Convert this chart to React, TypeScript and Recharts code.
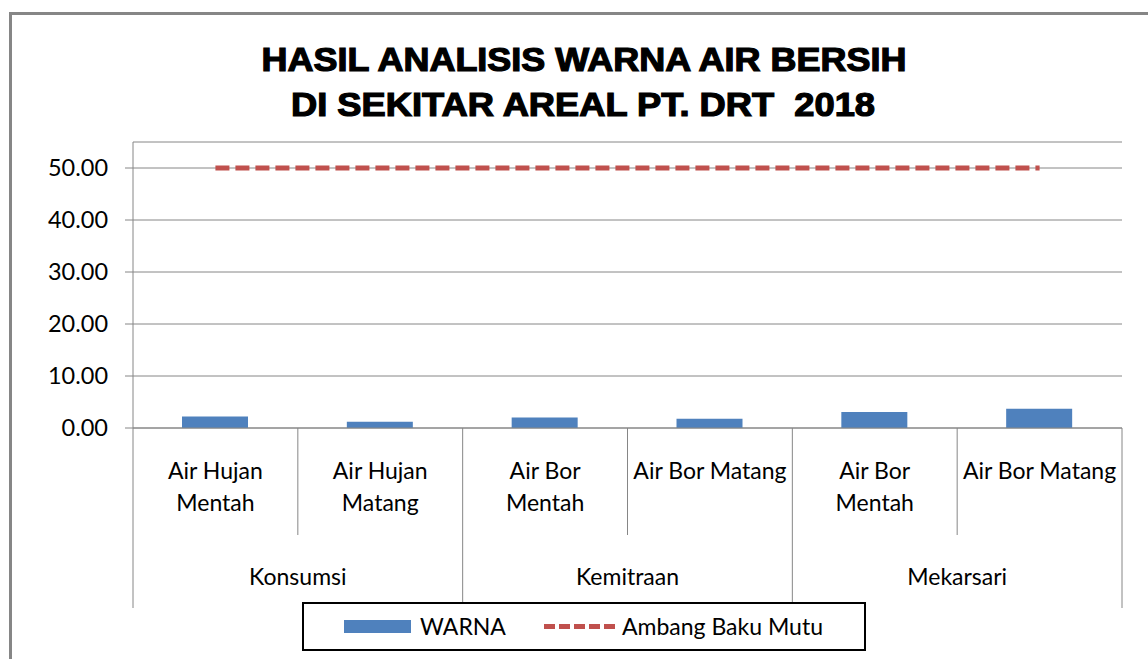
import React from 'react';
import { ComposedChart, Bar, Line, XAxis, YAxis, CartesianGrid, Legend } from 'recharts';

// sub-categories (already split into the lines Excel showed)
const categoryLines = [
  ['Air Hujan', 'Mentah'],
  ['Air Hujan', 'Matang'],
  ['Air Bor', 'Mentah'],
  ['Air Bor Matang'],
  ['Air Bor', 'Mentah'],
  ['Air Bor Matang'],
];
const groups = ['Konsumsi', 'Kemitraan', 'Mekarsari'];
const warna = [2.2, 1.2, 2.0, 1.8, 3.1, 3.7];
const ambangBakuMutu = [50, 50, 50, 50, 50, 50];
const yTicks = [0, 10, 20, 30, 40, 50];
const titleLines = ['HASIL ANALISIS WARNA AIR BERSIH', 'DI SEKITAR AREAL PT. DRT  2018'];

const W = 1148;
const H = 659;
const PLOT_LEFT = 133;
const PLOT_RIGHT = 1122;
const PLOT_TOP = 142;
const PLOT_BOTTOM = 428;
const X_AXIS_H = 200;

const FONT = 'Lato, "Open Sans", sans-serif';
const GREY = '#868686';
const BLUE = '#4F81BD';
const RED = '#C0504D';

const chartData = categoryLines.map((lines, i) => ({
  key: `${groups[Math.floor(i / 2)]}|${i}`,
  warna: warna[i],
  ambang: ambangBakuMutu[i],
}));

const band = (PLOT_RIGHT - PLOT_LEFT) / categoryLines.length;

function CategoryTick(props: any) {
  const { payload } = props;
  const i: number = payload.index ?? props.index ?? 0;
  const cx: number = payload.coordinate;
  const lines = categoryLines[i] || [];
  const right = cx + band / 2;
  const left = cx - band / 2;
  const longRight = i % 2 === 1;
  return (
    <g>
      {i === 0 && <line x1={left} x2={left} y1={PLOT_BOTTOM} y2={608} stroke={GREY} strokeWidth={1} />}
      <line x1={right} x2={right} y1={PLOT_BOTTOM} y2={longRight ? 608 : 535} stroke={GREY} strokeWidth={1} />
      <text textAnchor="middle" fontFamily={FONT} fontSize={23} fill="#000">
        {lines.map((l, k) => (
          <tspan key={k} x={cx} y={479 + k * 32}>{l}</tspan>
        ))}
      </text>
      {i % 2 === 0 && (
        <text x={right} y={585} textAnchor="middle" fontFamily={FONT} fontSize={23} fill="#000">
          {groups[i / 2]}
        </text>
      )}
    </g>
  );
}

// Calibri-like narrow digits: fit the Lato figures to the original widths
function ValueTick(props: any) {
  const { x, y, payload } = props;
  const label = Number(payload.value).toFixed(2);
  const digits = label.replace('.', '').length;
  const len = digits * 13.5 + 6;
  return (
    <text
      x={x}
      y={y + 8}
      textAnchor="end"
      fontFamily={FONT}
      fontSize={23}
      fill="#000"
      textLength={len}
      lengthAdjust="spacingAndGlyphs"
    >
      {label}
    </text>
  );
}

function LegendBox() {
  return (
    <svg width={564} height={49} style={{ display: 'block' }}>
      <rect x={1} y={1} width={562} height={47} fill="#fff" stroke="#000" strokeWidth={2} />
      <rect x={42} y={18} width={67} height={13} fill={BLUE} />
      <text x={118} y={33} fontFamily={FONT} fontSize={23} fill="#000">WARNA</text>
      <line x1={242} x2={315} y1={24.5} y2={24.5} stroke={RED} strokeWidth={5} strokeDasharray="11 4" />
      <text x={320} y={33} fontFamily={FONT} fontSize={23} fill="#000">Ambang Baku Mutu</text>
    </svg>
  );
}

export default function App() {
  return (
    <div style={{ position: 'absolute', left: 0, top: 0, width: W, height: H, overflow: 'hidden', background: '#fff' }}>
      <div
        style={{
          position: 'absolute',
          left: 9,
          top: 12,
          width: W + 40,
          height: H + 40,
          border: `3px solid ${GREY}`,
          boxSizing: 'border-box',
        }}
      />
      <svg width={W} height={130} style={{ position: 'absolute', left: 0, top: 0 }}>
        <text
          x={584}
          y={71}
          textAnchor="middle"
          fontFamily='"Liberation Sans", Arial, sans-serif'
          fontWeight="bold"
          fontSize={33}
          textLength={645}
          lengthAdjust="spacingAndGlyphs"
          stroke="#000"
          strokeWidth={1.2}
          fill="#000"
        >
          {titleLines[0]}
        </text>
        <text
          x={583}
          y={116}
          textAnchor="middle"
          fontFamily='"Liberation Sans", Arial, sans-serif'
          fontWeight="bold"
          fontSize={33}
          textLength={584}
          lengthAdjust="spacingAndGlyphs"
          stroke="#000"
          strokeWidth={1.2}
          fill="#000"
          style={{ whiteSpace: 'pre' }}
        >
          {titleLines[1]}
        </text>
      </svg>
      <div style={{ position: 'absolute', left: 0, top: 0 }}>
        <ComposedChart
          width={W}
          height={H}
          data={chartData}
          margin={{ top: PLOT_TOP, right: W - PLOT_RIGHT, bottom: H - PLOT_BOTTOM - X_AXIS_H, left: PLOT_LEFT - 120 }}
        >
          <CartesianGrid vertical={false} stroke={GREY} strokeWidth={1} />
          <XAxis
            dataKey="key"
            height={X_AXIS_H}
            interval={0}
            tickLine={false}
            axisLine={{ stroke: GREY, strokeWidth: 1 }}
            tick={<CategoryTick />}
          />
          <YAxis
            width={120}
            domain={[0, 55]}
            ticks={yTicks}
            interval={0}
            tick={<ValueTick />}
            tickSize={8}
            tickMargin={17}
            axisLine={{ stroke: GREY, strokeWidth: 1 }}
            tickLine={{ stroke: GREY, strokeWidth: 1 }}
          />
          <Legend
            layout="horizontal"
            verticalAlign="middle"
            align="center"
            wrapperStyle={{ left: 302, top: 602, width: 564, height: 49 }}
            content={() => <LegendBox />}
          />
          <Bar dataKey="warna" name="WARNA" fill={BLUE} barSize={66} isAnimationActive={false} />
          <Line
            dataKey="ambang"
            name="Ambang Baku Mutu"
            type="linear"
            stroke={RED}
            strokeWidth={5}
            strokeDasharray="14 6"
            dot={false}
            activeDot={false}
            isAnimationActive={false}
          />
        </ComposedChart>
      </div>
    </div>
  );
}
